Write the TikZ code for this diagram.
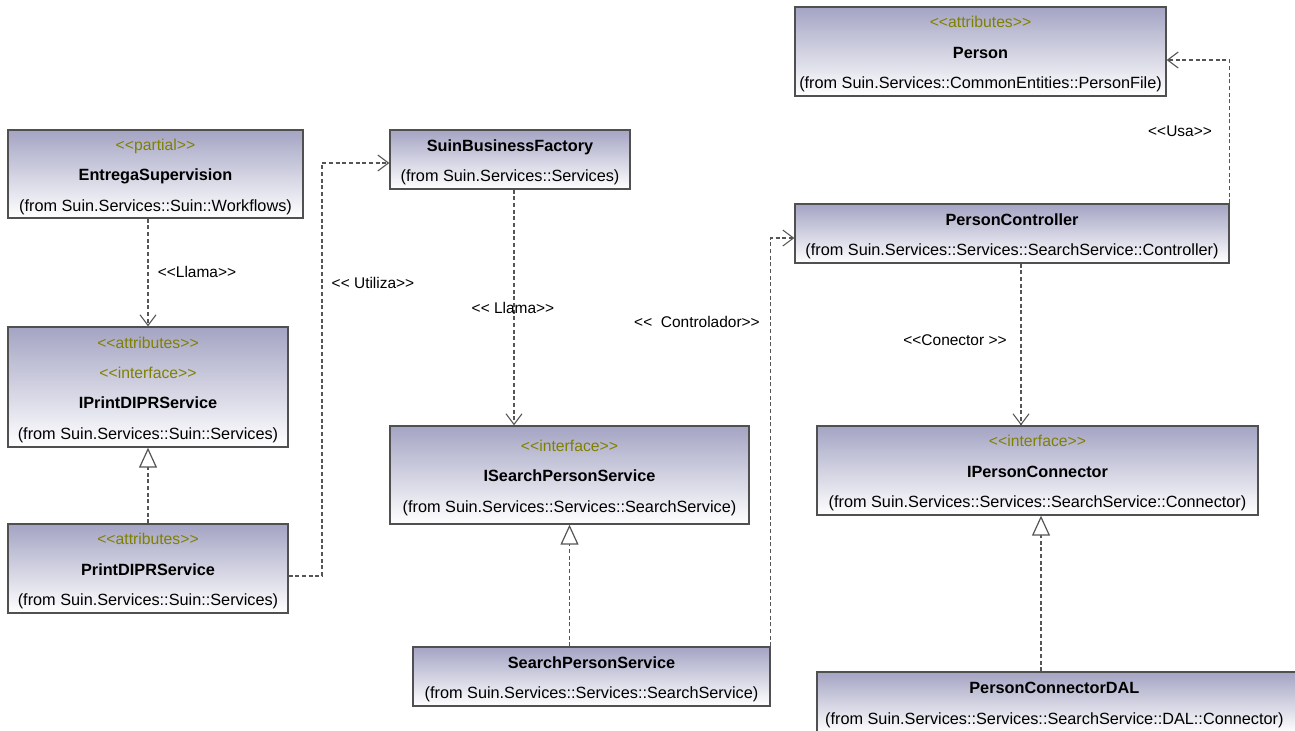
\documentclass[tikz,border=0pt]{standalone}
\usepackage{fontspec}
\setmainfont{Liberation Sans}[Ligatures=TeXOff]
\usetikzlibrary{arrows.meta}
\definecolor{stereocol}{RGB}{128,128,0}
\definecolor{boxtop}{RGB}{164,164,196}
\definecolor{boxline}{RGB}{80,80,80}
\definecolor{depline}{RGB}{85,85,85}
\newcommand{\umlst}[1]{{\fontsize{11.8}{22.8}\selectfont\color{stereocol}<<#1>>}}
\newcommand{\umlname}[1]{{\bfseries #1}}
\tikzset{
  umlbox/.style={draw=boxline, line width=1pt, top color=boxtop, bottom color=white,
    inner sep=0pt},
  umltext/.style={inner sep=0pt, align=center, yshift=-2pt,
    font=\fontsize{12.2}{22.8}\selectfont},
  dep/.style={draw=depline, line width=0.9pt, dash pattern=on 3pt off 2pt},
  usearrow/.style={dep, -{Straight Barb[length=8pt,width=12pt,line width=0.8pt]}},
  realize/.style={dep, -{Triangle[open, length=15pt, width=13.5pt, line width=0.9pt, fill=white]}},
  deplabel/.style={font=\fontsize{11.6}{14}\selectfont, inner sep=1pt}
}
\begin{document}
\begin{tikzpicture}[x=0.75pt, y=-0.75pt]
\clip (0,0) rectangle (1295,731);
\fill[white] (0,0) rectangle (1295,731);

% class boxes
\node[umlbox, minimum width=221.25pt, minimum height=66pt] (entrega) at (155.5,174) {};
\node[umlbox, minimum width=210pt, minimum height=90pt] (iprint) at (148,387) {};
\node[umlbox, minimum width=210pt, minimum height=66.75pt] (print) at (148,568.5) {};
\node[umlbox, minimum width=180pt, minimum height=44.25pt] (sbf) at (510,159.5) {};
\node[umlbox, minimum width=269.25pt, minimum height=73.5pt] (isearch) at (569.5,475) {};
\node[umlbox, minimum width=267.75pt, minimum height=44.25pt] (sps) at (591.5,676.5) {};
\node[umlbox, minimum width=278.25pt, minimum height=66.75pt] (person) at (980.5,51.5) {};
\node[umlbox, minimum width=325.5pt, minimum height=44.25pt] (pc) at (1012,233.5) {};
\node[umlbox, minimum width=330.75pt, minimum height=66.75pt] (ipc) at (1037.5,470.5) {};
\node[umlbox, minimum width=360pt, minimum height=45.75pt] (dal) at (1057,702.5) {};

% class compartments: stereotypes, names, packages
\node[umltext] (entrega-t) at (entrega.center)
  {\umlst{partial}\\ \umlname{EntregaSupervision}\\ (from Suin.Services::Suin::Workflows)};
\node[umltext] (iprint-t) at (iprint.center)
  {\umlst{attributes}\\ \umlst{interface}\\ \umlname{IPrintDIPRService}\\ (from Suin.Services::Suin::Services)};
\node[umltext] (print-t) at (print.center)
  {\umlst{attributes}\\ \umlname{PrintDIPRService}\\ (from Suin.Services::Suin::Services)};
\node[umltext] (sbf-t) at (sbf.center)
  {\umlname{SuinBusinessFactory}\\ (from Suin.Services::Services)};
\node[umltext] (isearch-t) at (isearch.center)
  {\umlst{interface}\\ \umlname{ISearchPersonService}\\ (from Suin.Services::Services::SearchService)};
\node[umltext] (sps-t) at (sps.center)
  {\umlname{SearchPersonService}\\ (from Suin.Services::Services::SearchService)};
\node[umltext] (person-t) at (person.center)
  {\umlst{attributes}\\ \umlname{Person}\\ (from Suin.Services::CommonEntities::PersonFile)};
\node[umltext] (pc-t) at (pc.center)
  {\umlname{PersonController}\\ (from Suin.Services::Services::SearchService::Controller)};
\node[umltext] (ipc-t) at (ipc.center)
  {\umlst{interface}\\ \umlname{IPersonConnector}\\ (from Suin.Services::Services::SearchService::Connector)};
\node[umltext, xshift=-2pt] (dal-t) at (dal.center)
  {\umlname{PersonConnectorDAL}\\ (from Suin.Services::Services::SearchService::DAL::Connector)};

% routing points
\coordinate (u1) at (322,163);
\coordinate (l2) at (514,0);
\coordinate (k1) at (1021,0);
\coordinate (k2) at (1041,0);

% dependencies
\draw[usearrow] (entrega.south -| iprint.north) -- (iprint.north);
\draw[usearrow] ([yshift=-5.6pt]print.east) -| (u1) -- (sbf.west |- u1);
\draw[usearrow] (sbf.south -| l2) -- (isearch.north -| l2);
\draw[usearrow] (sps.north east) |- ([yshift=-3.4pt]pc.west);
\draw[usearrow] (pc.north east) |- ([yshift=-6.4pt]person.east);
\draw[usearrow] (pc.south -| k1) -- (ipc.north -| k1);

% realizations
\draw[realize] (print.north) -- (iprint.south);
\draw[realize] (sps.north -| isearch.south) -- (isearch.south);
\draw[realize] (dal.north -| k2) -- (ipc.south -| k2);

% labels
\node[deplabel] (lbl1) at (197,272) {<<Llama>>};
\node[deplabel] (lbl2) at (373,283) {<< Utiliza>>};
\node[deplabel] (lbl3) at (513,308) {<< Llama>>};
\node[deplabel] (lbl4) at (697,322) {<<\ \ Controlador>>};
\node[deplabel] (lbl5) at (1180,131) {<<Usa>>};
\node[deplabel] (lbl6) at (955,340) {<<Conector >>};
\end{tikzpicture}
\end{document}
